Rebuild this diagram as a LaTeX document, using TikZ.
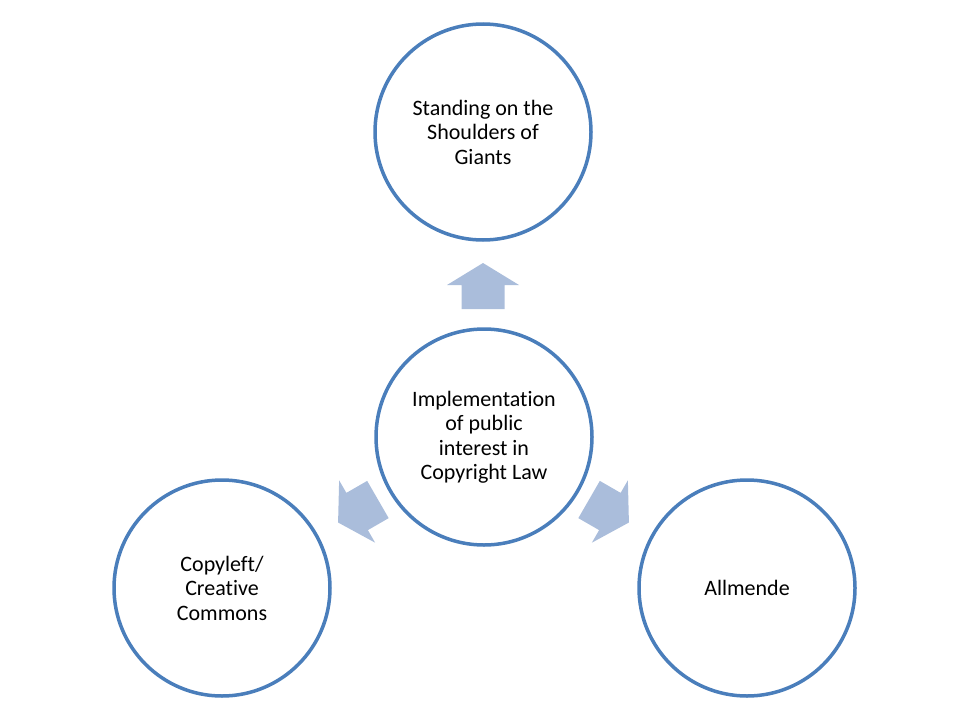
\documentclass[tikz,border=0pt]{standalone}
\usepackage{fontspec}
\setmainfont{Carlito}[Ligatures=NoCommon]
\definecolor{circblue}{RGB}{74,126,187}
\definecolor{arrowblue}{RGB}{170,189,219}
\begin{document}
\begin{tikzpicture}[x=1pt,y=-1pt,
  circ/.style={circle, draw=circblue, line width=3.5pt, minimum size=216pt, inner sep=0pt,
    align=center, fill=white, font=\fontsize{22}{24.5}\selectfont},
  bigarrow/.pic={\fill[arrowblue] (-21.5,23) -- (-21.5,-1) -- (-36,-1) -- (0,-23) -- (36,-1) -- (21.5,-1) -- (21.5,23) -- cycle;}]
\useasboundingbox (0,0) rectangle (960,720);
\node[circ] (top) at (483,132) {Standing on the\\Shoulders of\\Giants};
\node[circ] (center) at (484,437) {Implementation\\of public\\interest in\\Copyright Law};
\node[circ] (left) at (222,588) {Copyleft/\\Creative\\Commons};
\node[circ] (right) at (747,588) {Allmende};
\pic (arrowup) at (483,286) {bigarrow};
\pic[rotate=120] (arrowleft) at (358,511) {bigarrow};
\pic[rotate=-120] (arrowright) at (609,511) {bigarrow};
\end{tikzpicture}
\end{document}
